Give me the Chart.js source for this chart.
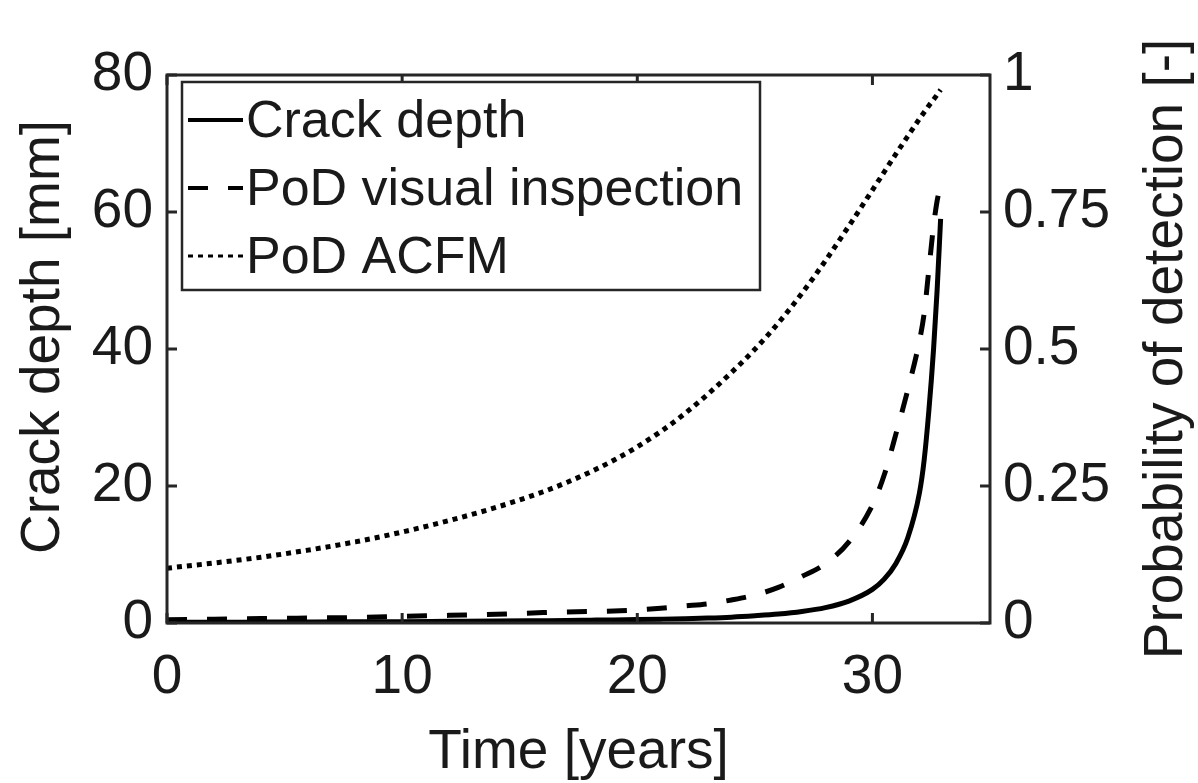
<!DOCTYPE html>
<html lang="en">
<head>
    <meta charset="UTF-8">
    <title>Crack depth and probability of detection</title>
    <script src="https://cdn.jsdelivr.net/npm/chart.js@4.4.1/dist/chart.umd.min.js"></script>
    <style>
        html, body {
            margin: 0;
            padding: 0;
            background: #fff;
        }
        .wrap {
            width: 1198px;
            height: 783px;
        }
    </style>
</head>
<body>
    <div class="wrap">
        <canvas id="crackChart" width="1198" height="783"></canvas>
    </div>

    <script>
        // time axis (years)
        const years = [0, 2, 4, 6, 8, 10, 12, 14, 16, 17, 18, 19, 20, 21, 22, 23, 24, 25, 26, 27, 28, 29, 30, 30.5, 31, 31.5, 32, 32.2, 32.4, 32.6, 32.75, 32.9];
        // crack depth [mm] (left axis)
        const crackDepth = [0.1, 0.12, 0.13, 0.15, 0.17, 0.2, 0.24, 0.28, 0.34, 0.37, 0.41, 0.45, 0.5, 0.56, 0.63, 0.72, 0.85, 1.05, 1.3, 1.68, 2.25, 3.2, 4.9, 6.4, 8.7, 12.4, 19, 23.8, 31, 40, 48.5, 59];
        // PoD visual inspection [-] (right axis)
        const podVisual = [0.006, 0.007, 0.008, 0.009, 0.01, 0.012, 0.014, 0.016, 0.019, 0.02, 0.021, 0.022, 0.024, 0.027, 0.031, 0.035, 0.042, 0.051, 0.065, 0.085, 0.108, 0.148, 0.215, 0.27, 0.345, 0.425, 0.515, 0.565, 0.645, 0.725, 0.77, 0.8];
        // PoD ACFM [-] (right axis)
        const podAcfm = [0.1, 0.1095, 0.12, 0.133, 0.148, 0.166, 0.187, 0.211, 0.2395, 0.2565, 0.2755, 0.297, 0.3215, 0.3495, 0.3815, 0.4175, 0.457, 0.4995, 0.5475, 0.6015, 0.661, 0.7245, 0.79, 0.823, 0.856, 0.888, 0.92, 0.932, 0.944, 0.955, 0.964, 0.973];

        const seriesLabels = ['Crack depth', 'PoD visual inspection', 'PoD ACFM'];
        const axisTitles = ['Time [years]', 'Crack depth [mm]', 'Probability of detection [-]'];

        const FONT = '"Liberation Sans", Arial, Helvetica, sans-serif';
        const INK = '#1a1a1a';
        const AXIS = '#262626';

        function toPoints(xs, ys) {
            return xs.map((x, i) => ({ x: x, y: ys[i] }));
        }

        // axes box with inward ticks, drawn on top of the lines
        const framePlugin = {
            id: 'frame',
            afterDatasetsDraw(chart) {
                const { ctx, chartArea: a, scales } = chart;
                const len = 10;
                ctx.save();
                ctx.strokeStyle = AXIS;
                ctx.lineWidth = 3;
                ctx.strokeRect(a.left, a.top, a.right - a.left, a.bottom - a.top);
                ctx.beginPath();
                scales.x.ticks.forEach(t => {
                    const px = scales.x.getPixelForValue(t.value);
                    ctx.moveTo(px, a.bottom); ctx.lineTo(px, a.bottom - len);
                    ctx.moveTo(px, a.top); ctx.lineTo(px, a.top + len);
                });
                scales.y.ticks.forEach(t => {
                    const py = scales.y.getPixelForValue(t.value);
                    ctx.moveTo(a.left, py); ctx.lineTo(a.left + len, py);
                });
                scales.y1.ticks.forEach(t => {
                    const py = scales.y1.getPixelForValue(t.value);
                    ctx.moveTo(a.right, py); ctx.lineTo(a.right - len, py);
                });
                ctx.stroke();

                // vertical axis titles (both read bottom to top)
                ctx.fillStyle = INK;
                ctx.font = '55px ' + FONT;
                ctx.textAlign = 'center';
                ctx.textBaseline = 'middle';
                const midY = (a.top + a.bottom) / 2;
                ctx.save();
                ctx.translate(44, midY - 12);
                ctx.rotate(-Math.PI / 2);
                ctx.fillText(axisTitles[1], 0, 0);
                ctx.restore();
                ctx.save();
                ctx.translate(chart.width - 31, midY);
                ctx.rotate(-Math.PI / 2);
                ctx.fillText(axisTitles[2], 0, 0);
                ctx.restore();
                ctx.restore();
            }
        };

        // MATLAB style legend box in the top left corner of the axes
        const legendPlugin = {
            id: 'boxLegend',
            afterDraw(chart) {
                const { ctx, chartArea: a } = chart;
                const left = a.left + 15, top = a.top + 7;
                const w = 578, h = 208;
                ctx.save();
                ctx.fillStyle = '#fff';
                ctx.fillRect(left, top, w, h);
                ctx.strokeStyle = AXIS;
                ctx.lineWidth = 2.5;
                ctx.strokeRect(left, top, w, h);
                ctx.font = '52px ' + FONT;
                ctx.textBaseline = 'middle';
                ctx.textAlign = 'left';
                chart.data.datasets.forEach((ds, i) => {
                    const cy = top + 38 + i * 68;
                    ctx.strokeStyle = ds.borderColor;
                    ctx.lineWidth = i === 2 ? 3 : 4;
                    ctx.setLineDash(ds.borderDash || []);
                    ctx.beginPath();
                    ctx.moveTo(left + 6, cy);
                    ctx.lineTo(left + 61, cy);
                    ctx.stroke();
                    ctx.setLineDash([]);
                    ctx.fillStyle = INK;
                    ctx.fillText(ds.label, left + 64, cy + 3);
                });
                ctx.restore();
            }
        };

        const tickFont = { family: FONT, size: 55 };

        new Chart(document.getElementById('crackChart'), {
            type: 'line',
            data: {
                datasets: [{
                    label: seriesLabels[0],
                    data: toPoints(years, crackDepth),
                    yAxisID: 'y',
                    borderColor: '#000',
                    borderWidth: 5,
                    pointRadius: 0,
                    cubicInterpolationMode: 'monotone'
                }, {
                    label: seriesLabels[1],
                    data: toPoints(years, podVisual),
                    yAxisID: 'y1',
                    borderColor: '#000',
                    borderWidth: 5,
                    borderDash: [20, 20],
                    pointRadius: 0,
                    cubicInterpolationMode: 'monotone'
                }, {
                    label: seriesLabels[2],
                    data: toPoints(years, podAcfm),
                    yAxisID: 'y1',
                    borderColor: '#000',
                    borderWidth: 5,
                    borderDash: [5, 5],
                    pointRadius: 0,
                    cubicInterpolationMode: 'monotone'
                }]
            },
            options: {
                responsive: false,
                animation: false,
                devicePixelRatio: 1,
                layout: { padding: { top: 75, left: 0, right: 0, bottom: 0 } },
                plugins: {
                    legend: { display: false },
                    tooltip: { enabled: false }
                },
                scales: {
                    x: {
                        type: 'linear',
                        position: 'bottom',
                        min: 0,
                        max: 35,
                        grid: { display: false, drawTicks: false },
                        border: { display: false },
                        ticks: { stepSize: 10, includeBounds: false, font: tickFont, color: INK, padding: 22, maxRotation: 0 },
                        title: {
                            display: true,
                            text: axisTitles[0],
                            font: { family: FONT, size: 55, lineHeight: 1 },
                            color: INK,
                            padding: { top: 0, bottom: 3 }
                        },
                        afterFit: s => { s.height = 160; }
                    },
                    y: {
                        position: 'left',
                        min: 0,
                        max: 80,
                        grid: { display: false, drawTicks: false },
                        border: { display: false },
                        ticks: { stepSize: 20, font: tickFont, color: INK, padding: 14 },
                        afterFit: s => { s.width = 167; }
                    },
                    y1: {
                        position: 'right',
                        min: 0,
                        max: 1,
                        grid: { display: false, drawTicks: false },
                        border: { display: false },
                        ticks: {
                            stepSize: 0.25,
                            font: tickFont,
                            color: INK,
                            padding: 13,
                            callback: v => String(v)
                        },
                        afterFit: s => { s.width = 208; }
                    }
                }
            },
            plugins: [framePlugin, legendPlugin]
        });
    </script>
</body>
</html>
